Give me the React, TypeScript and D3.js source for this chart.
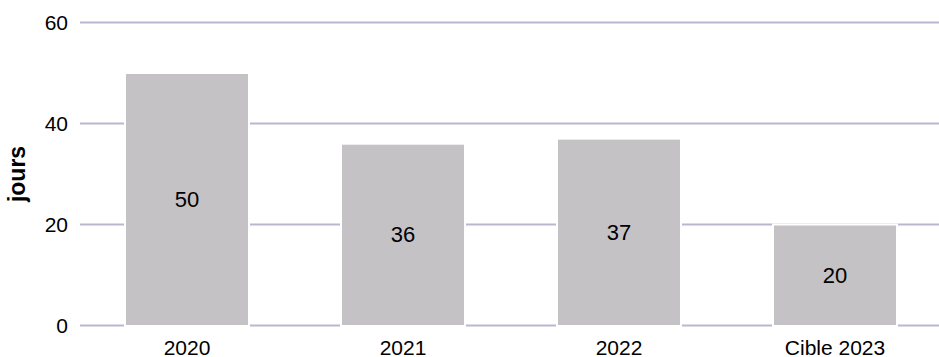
import React from 'react';
import * as d3 from 'd3';

const categories = ['2020', '2021', '2022', 'Cible 2023'];
const values = [50, 36, 37, 20];
const yTicks = [0, 20, 40, 60];

const WIDTH = 939;
const HEIGHT = 357;
const FONT = '"Liberation Sans", Arial, sans-serif';

export default function App() {
  const x = d3.scaleBand<string>()
    .domain(categories)
    .range([79, 943])
    .paddingInner(0.426)
    .paddingOuter(0.213);

  const y = d3.scaleLinear().domain([0, 60]).range([325.5, 22.5]);

  return (
    <svg
      width={WIDTH}
      height={HEIGHT}
      style={{ position: 'absolute', left: 0, top: 0, fontFamily: FONT }}
    >
      <rect width={WIDTH} height={HEIGHT} fill="#ffffff" />
      {yTicks.map(t => (
        <g key={t}>
          <line x1={80} x2={WIDTH} y1={y(t)} y2={y(t)} stroke="#b9b7d0" strokeWidth={2} />
          <text x={68} y={y(t)} dy="0.35em" textAnchor="end" fontSize={21} fill="#000">{t}</text>
        </g>
      ))}
      {categories.map((c, i) => (
        <g key={c}>
          <rect
            x={x(c)!}
            y={y(values[i])}
            width={x.bandwidth()}
            height={y(0) - y(values[i]) + 0.5}
            fill="#c4c2c5"
            stroke="#ffffff"
            strokeWidth={2}
          />
          <text
            x={x(c)! + x.bandwidth() / 2}
            y={(y(values[i]) + y(0)) / 2}
            dy="0.35em"
            textAnchor="middle"
            fontSize={22}
            fill="#000"
          >
            {values[i]}
          </text>
          <text x={x(c)! + x.bandwidth() / 2} y={348} dy="0.35em" textAnchor="middle" fontSize={21} fill="#000">
            {c}
          </text>
        </g>
      ))}
      <text
        transform={`translate(17,${(y(0) + y(60)) / 2}) rotate(-90)`}
        dy="0.35em"
        textAnchor="middle"
        fontSize={23}
        fontWeight="bold"
        fill="#000"
      >
        jours
      </text>
    </svg>
  );
}
